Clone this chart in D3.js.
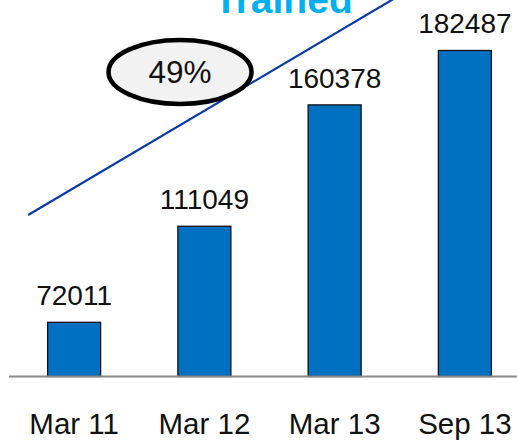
<!DOCTYPE html>
<html>
<head>
<meta charset="utf-8">
<script src="https://cdn.jsdelivr.net/npm/d3@7"></script>
<style>
  html, body { margin: 0; padding: 0; background: #fff; }
  svg { display: block; }
  text { font-family: "Liberation Sans", Arial, sans-serif; }
</style>
</head>
<body>
<svg id="chart" width="517" height="440"></svg>
<script>
// ---- data ----
const categories = ["Mar 11", "Mar 12", "Mar 13", "Sep 13"];
const values = [72011, 111049, 160378, 182487];
const growthLabel = "49%";
const trendTitle = "Trained";
// trend annotation in (category index, value) space
const trendIndex = [-0.353, 2.6];
const trendValue = [115635, 208050];
const bubbleIndex = 0.813;
const bubbleValue = 173750;

const W = 517, H = 440;
const svg = d3.select("#chart");

const x = d3.scaleBand()
  .domain(categories)
  .range([9, 530])
  .paddingInner(0.593)
  .paddingOuter(0.2965);

const xi = d3.scaleLinear()
  .domain([0, 1])
  .range([x(categories[0]) + x.bandwidth() / 2, x(categories[1]) + x.bandwidth() / 2]);

const y = d3.scaleLinear()
  .domain([50000, 200000])
  .range([376.5, 7.4]);

// bars
svg.append("g").selectAll("rect")
  .data(values)
  .join("rect")
  .attr("x", (d, i) => x(categories[i]))
  .attr("y", d => y(d))
  .attr("width", x.bandwidth())
  .attr("height", d => y.range()[0] - y(d))
  .attr("fill", "#0070C0")
  .attr("stroke", "#111")
  .attr("stroke-width", 1.3);

// axis baseline
const xAxis = d3.axisBottom(x).tickSize(0).tickPadding(35);
const ax = svg.append("g")
  .attr("transform", `translate(0,${y.range()[0]})`)
  .call(xAxis);
ax.select(".domain").remove();
ax.append("line")
  .attr("x1", 9).attr("x2", W)
  .attr("y1", 0).attr("y2", 0)
  .attr("stroke", "#8a8a8a")
  .attr("stroke-width", 2.2);
ax.selectAll(".tick text")
  .attr("fill", "#111")
  .style("font-size", "29.5px")
  .style("font-family", "'Liberation Sans', Arial, sans-serif")
  .attr("dy", "0")
  .attr("y", 57);

// value labels
svg.append("g").selectAll("text")
  .data(values)
  .join("text")
  .attr("x", (d, i) => x(categories[i]) + x.bandwidth() / 2)
  .attr("y", d => y(d) - 17)
  .attr("text-anchor", "middle")
  .attr("fill", "#111")
  .style("font-size", "28px")
  .text(d => d);

// trend line
svg.append("line")
  .attr("x1", xi(trendIndex[0])).attr("y1", y(trendValue[0]))
  .attr("x2", xi(trendIndex[1])).attr("y2", y(trendValue[1]))
  .attr("stroke", "#0B3BA8")
  .attr("stroke-width", 2.2);

// title
svg.append("text")
  .attr("x", 214)
  .attr("y", 13)
  .attr("fill", "#00B0F0")
  .style("font-size", "39px")
  .style("font-weight", "bold")
  .text(trendTitle);

// growth bubble
svg.append("ellipse")
  .attr("cx", xi(bubbleIndex))
  .attr("cy", y(bubbleValue))
  .attr("rx", 71.5)
  .attr("ry", 32)
  .attr("fill", "#F2F2F2")
  .attr("stroke", "#000")
  .attr("stroke-width", 4.5);
svg.append("text")
  .attr("x", xi(bubbleIndex))
  .attr("y", y(bubbleValue) + 11.5)
  .attr("text-anchor", "middle")
  .attr("fill", "#111")
  .style("font-size", "31.5px")
  .text(growthLabel);
</script>
</body>
</html>
